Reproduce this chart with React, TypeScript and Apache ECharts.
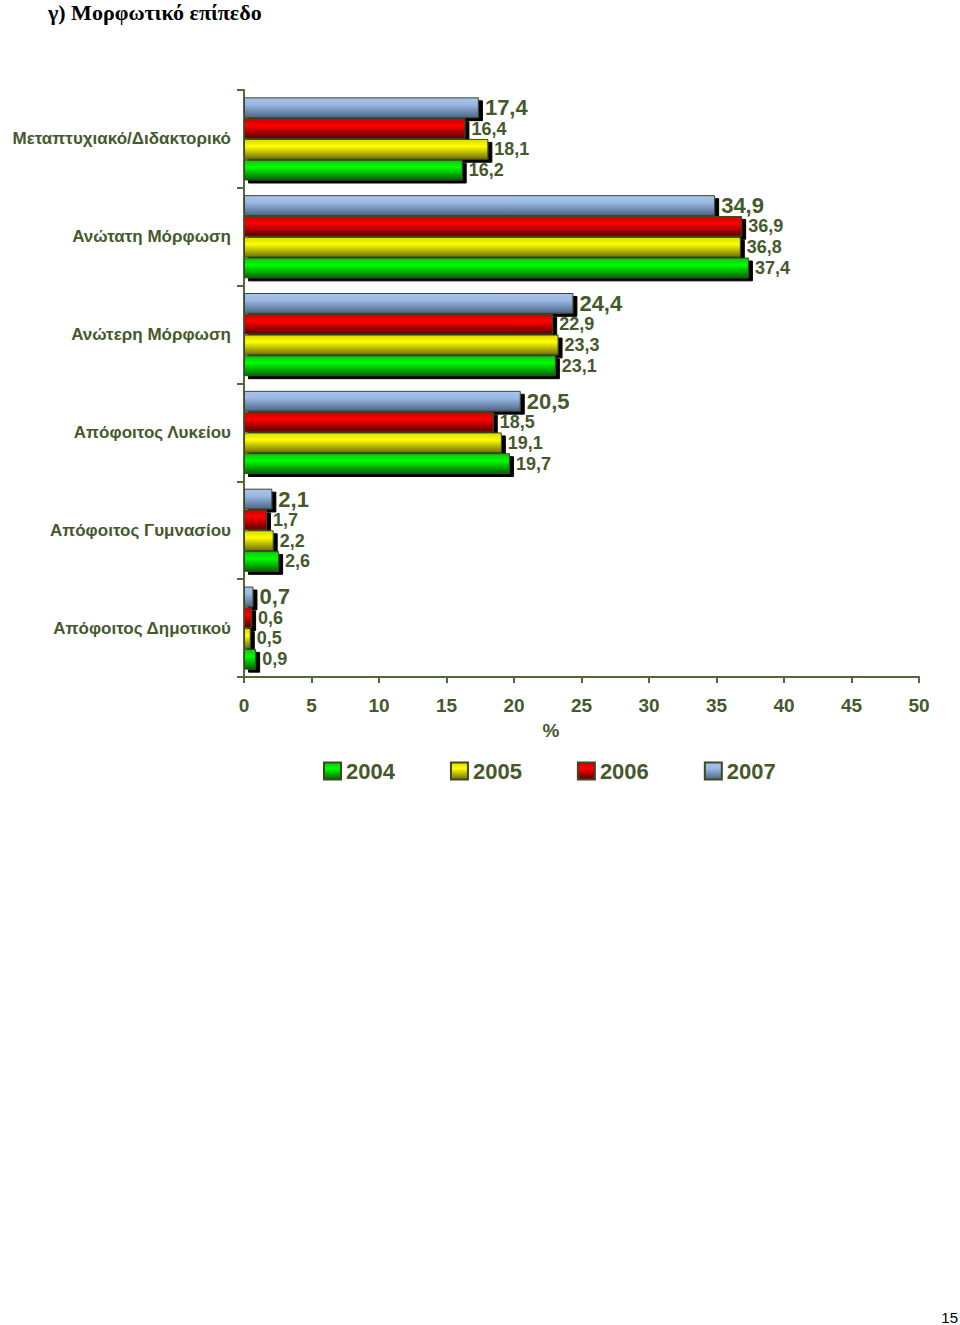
import React, { useEffect, useRef } from "react";
import * as echarts from "echarts";

const categories = [
  "Απόφοιτος Δημοτικού",
  "Απόφοιτος Γυμνασίου",
  "Απόφοιτος Λυκείου",
  "Ανώτερη Μόρφωση",
  "Ανώτατη Μόρφωση",
  "Μεταπτυχιακό/Διδακτορικό",
];
const years = ["2004", "2005", "2006", "2007"];
const v2004 = [0.9, 2.6, 19.7, 23.1, 37.4, 16.2];
const v2005 = [0.5, 2.2, 19.1, 23.3, 36.8, 18.1];
const v2006 = [0.6, 1.7, 18.5, 22.9, 36.9, 16.4];
const v2007 = [0.7, 2.1, 20.5, 24.4, 34.9, 17.4];
const xTicks = [0, 5, 10, 15, 20, 25, 30, 35, 40, 45, 50];

const TXT = "#46592c";
const AX = "#52673a";
const FONT = "Liberation Sans, Arial, sans-serif";

const grad = (a: string, b: string, c: string) =>
  new echarts.graphic.LinearGradient(0, 0, 0, 1, [
    { offset: 0, color: a },
    { offset: 0.35, color: b },
    { offset: 1, color: c },
  ]);

const palette = [
  ["#10c010", "#00ff00", "#006400"],
  ["#d8d800", "#ffff00", "#6e6e00"],
  ["#c80000", "#ff0000", "#5a0000"],
  ["#a8c4ec", "#9ab8e4", "#4c6488"],
];

const fmt = (v: number) => v.toFixed(1).replace(".", ",");

export default function App() {
  const ref = useRef<HTMLDivElement>(null);
  useEffect(() => {
    if (!ref.current) return;
    const chart = echarts.init(ref.current, null, { renderer: "svg" });
    const values = [v2004, v2005, v2006, v2007];
    const series = [3, 2, 1, 0].map((i) => ({
      name: years[i],
      type: "bar",
      data: values[i],
      barGap: "0%",
      barCategoryGap: "15%",
      itemStyle: {
        color: grad(palette[i][0], palette[i][1], palette[i][2]),
        borderColor: "#3c4a24",
        borderWidth: 1,
        shadowColor: "#000",
        shadowOffsetX: 4,
        shadowOffsetY: 3,
        shadowBlur: 0,
      },
      label: {
        show: true,
        position: "right",
        distance: 6,
        formatter: (p: any) => fmt(p.value),
        color: TXT,
        fontFamily: FONT,
        fontWeight: "bold",
        fontSize: i === 3 ? 22 : 18,
      },
    }));
    chart.setOption({
      animation: false,
      backgroundColor: "#ffffff",
      grid: { left: 244, top: 90, width: 675, height: 587, containLabel: false },
      xAxis: {
        type: "value",
        min: 0,
        max: 50,
        interval: 5,
        axisLine: { show: true, lineStyle: { color: AX, width: 2 } },
        axisTick: { show: true, length: 6, lineStyle: { color: AX, width: 2 } },
        splitLine: { show: false },
        axisLabel: {
          margin: 19,
          color: TXT,
          fontSize: 19,
          fontWeight: "bold",
          fontFamily: FONT,
          formatter: (v: number) => (xTicks.includes(v) ? String(v) : ""),
        },
      },
      yAxis: {
        type: "category",
        data: categories,
        axisLine: { show: true, lineStyle: { color: AX, width: 2 } },
        axisTick: { show: true, length: 7, lineStyle: { color: AX, width: 2 } },
        axisLabel: {
          margin: 13,
          color: TXT,
          fontSize: 17,
          fontWeight: "bold",
          fontFamily: FONT,
        },
      },
      legend: {
        data: years,
        left: 323,
        top: 760,
        padding: 0,
        itemWidth: 17,
        itemHeight: 17,
        itemGap: 55,
        icon: "rect",
        textStyle: {
          color: TXT,
          fontSize: 22,
          fontWeight: "bold",
          fontFamily: FONT,
        },
      },
      graphic: [
        {
          type: "text",
          left: 48,
          top: 1,
          style: {
            text: "γ) Μορφωτικό επίπεδο",
            font: "bold 22px 'Liberation Serif', 'Times New Roman', serif",
            fill: "#000",
          },
        },
        {
          type: "text",
          x: 551,
          y: 730,
          style: {
            text: "%",
            font: `bold 19px ${FONT}`,
            fill: TXT,
            align: "center",
            verticalAlign: "middle",
          },
        },
        {
          type: "text",
          right: 2,
          top: 1310,
          style: {
            text: "15",
            font: `15px ${FONT}`,
            fill: "#000",
          },
        },
      ],
      series,
    });
    return () => chart.dispose();
  }, []);
  return (
    <div
      ref={ref}
      style={{ position: "absolute", left: 0, top: 0, width: 960, height: 1325, background: "#fff" }}
    />
  );
}
